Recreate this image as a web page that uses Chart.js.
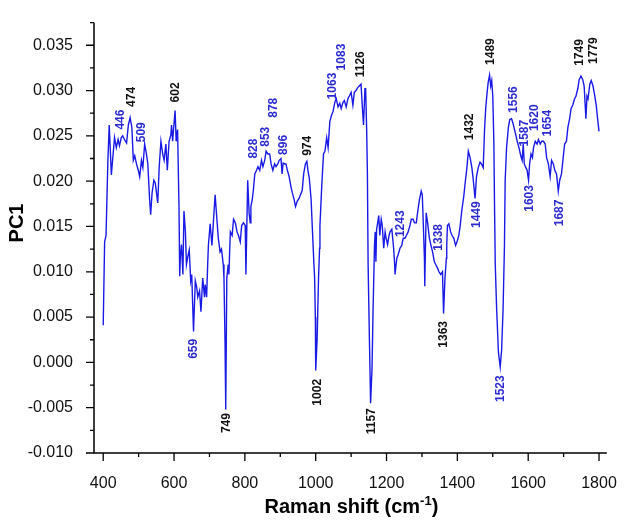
<!DOCTYPE html>
<html>
<head>
<meta charset="utf-8">
<script src="https://cdn.jsdelivr.net/npm/chart.js@4.4.1/dist/chart.umd.min.js"></script>
<style>
  html, body { margin: 0; padding: 0; background: #fff; }
  #wrap { width: 630px; height: 521px; }
</style>
</head>
<body>
<div id="wrap"><canvas id="c" width="630" height="521"></canvas></div>
<script>
// ---- data (Raman shift in cm-1, PC1 loading) ----
const ramanShift = [
  400,404,408,413,417,423,428,432,437,442,446,451,455,460,466,471,476,481,485,489,
  494,499,503,508,512,517,522,526,531,534,538,543,547,554,558,563,568,572,577,581,
  586,591,593,596,599,603,606,610,614,616,618,621,625,628,632,635,639,643,647,650,
  655,660,664,667,672,676,681,686,688,692,695,697,702,707,711,716,721,725,730,734,
  739,741,744,746,749,753,755,757,759,764,768,773,778,782,787,791,796,801,803,808,
  812,815,817,821,824,828,833,837,842,847,851,856,860,865,870,874,879,884,888,893,
  897,902,905,908,913,916,920,925,930,934,939,943,948,953,957,962,966,971,975,978,
  982,987,991,995,997,999,1000,1004,1008,1011,1012,1017,1022,1026,1031,1035,1040,1045,1049,1054,
  1058,1063,1068,1072,1077,1081,1086,1091,1095,1100,1105,1109,1114,1118,1123,1128,1132,1135,1139,1141,
  1144,1146,1148,1151,1155,1159,1162,1166,1168,1170,1172,1175,1178,1181,1185,1188,1192,1196,1199,1203,
  1207,1210,1215,1220,1223,1224,1229,1233,1238,1243,1247,1252,1256,1261,1266,1270,1275,1279,1284,1289,
  1293,1298,1301,1304,1307,1308,1310,1312,1316,1321,1325,1330,1335,1339,1344,1348,1353,1358,1361,1365,
  1369,1370,1372,1376,1381,1385,1390,1395,1399,1404,1408,1413,1418,1422,1427,1431,1436,1441,1445,1450,
  1454,1459,1464,1468,1473,1477,1480,1484,1487,1491,1494,1497,1500,1503,1505,1507,1511,1516,1521,1525,
  1529,1533,1535,1539,1544,1548,1553,1557,1560,1565,1569,1574,1579,1583,1586,1589,1592,1597,1601,1604,
  1608,1612,1615,1620,1625,1629,1634,1638,1643,1648,1652,1657,1662,1666,1671,1675,1680,1685,1689,1694,
  1698,1703,1708,1712,1717,1721,1726,1731,1735,1740,1744,1749,1754,1758,1763,1766,1769,1774,1778,1783,
  1788,1792,1796,1800
];
const pc1 = [
  0.0041,0.0133,0.0140,0.0220,0.0262,0.0207,0.0230,0.0248,0.0237,0.0246,0.0239,0.0248,0.0250,0.0246,0.0242,0.0262,0.0270,0.0259,0.0223,0.0228,
  0.0219,0.0212,0.0205,0.0223,0.0215,0.0241,0.0230,0.0219,0.0180,0.0163,0.0187,0.0201,0.0198,0.0176,0.0215,0.0244,0.0230,0.0223,0.0241,0.0212,
  0.0244,0.0251,0.0262,0.0244,0.0259,0.0278,0.0244,0.0257,0.0172,0.0095,0.0118,0.0130,0.0097,0.0167,0.0145,0.0108,0.0117,0.0124,0.0090,0.0097,
  0.0034,0.0090,0.0083,0.0072,0.0079,0.0056,0.0093,0.0072,0.0086,0.0072,0.0108,0.0129,0.0153,0.0129,0.0154,0.0185,0.0158,0.0137,0.0122,0.0125,
  0.0108,0.0093,0.0022,-0.0052,0.0093,0.0108,0.0097,0.0122,0.0144,0.0140,0.0158,0.0154,0.0144,0.0140,0.0133,0.0151,0.0154,0.0151,0.0097,0.0201,
  0.0165,0.0154,0.0172,0.0180,0.0190,0.0208,0.0212,0.0216,0.0212,0.0223,0.0216,0.0223,0.0233,0.0230,0.0230,0.0219,0.0212,0.0219,0.0216,0.0219,
  0.0223,0.0225,0.0208,0.0220,0.0219,0.0219,0.0212,0.0205,0.0194,0.0187,0.0180,0.0172,0.0178,0.0181,0.0185,0.0190,0.0208,0.0219,0.0222,0.0212,
  0.0203,0.0180,0.0144,0.0108,0.0093,0.0050,-0.0009,0.0025,0.0093,0.0126,0.0151,0.0194,0.0230,0.0233,0.0248,0.0237,0.0266,0.0273,0.0277,0.0287,
  0.0291,0.0282,0.0286,0.0280,0.0287,0.0289,0.0282,0.0291,0.0294,0.0298,0.0284,0.0298,0.0300,0.0303,0.0305,0.0307,0.0280,0.0262,0.0302,0.0302,
  0.0255,0.0208,0.0108,0.0040,-0.0045,-0.0007,0.0058,0.0129,0.0144,0.0111,0.0147,0.0154,0.0162,0.0140,0.0158,0.0151,0.0126,0.0144,0.0137,0.0130,
  0.0140,0.0144,0.0147,0.0126,0.0108,0.0097,0.0115,0.0119,0.0126,0.0129,0.0137,0.0137,0.0140,0.0144,0.0151,0.0158,0.0158,0.0154,0.0154,0.0169,
  0.0180,0.0189,0.0185,0.0151,0.0115,0.0084,0.0129,0.0165,0.0154,0.0137,0.0130,0.0122,0.0111,0.0108,0.0104,0.0100,0.0097,0.0100,0.0054,0.0093,
  0.0115,0.0129,0.0151,0.0153,0.0144,0.0140,0.0137,0.0129,0.0133,0.0140,0.0151,0.0169,0.0183,0.0198,0.0215,0.0233,0.0226,0.0215,0.0201,0.0181,
  0.0205,0.0215,0.0221,0.0219,0.0215,0.0259,0.0280,0.0298,0.0309,0.0317,0.0305,0.0311,0.0294,0.0244,0.0172,0.0108,0.0058,0.0011,-0.0005,0.0014,
  0.0058,0.0129,0.0201,0.0237,0.0259,0.0268,0.0269,0.0264,0.0259,0.0251,0.0244,0.0237,0.0228,0.0223,0.0241,0.0219,0.0216,0.0212,0.0201,0.0219,
  0.0230,0.0226,0.0237,0.0244,0.0241,0.0246,0.0241,0.0244,0.0244,0.0241,0.0226,0.0219,0.0205,0.0223,0.0219,0.0212,0.0208,0.0189,0.0201,0.0208,
  0.0223,0.0241,0.0244,0.0259,0.0269,0.0280,0.0284,0.0291,0.0294,0.0302,0.0312,0.0316,0.0312,0.0305,0.0269,0.0294,0.0291,0.0307,0.0311,0.0305,
  0.0294,0.0284,0.0269,0.0255
];

// ---- peak annotations (text, anchor in data units) ----
const peakText = ['446','474','509','602','659','749','828','853','878','896','974','1002','1063','1083','1126','1157',
                  '1243','1338','1363','1432','1449','1489','1523','1556','1587','1603','1620','1654','1687','1749','1779'];
const peakX    = [448,481,508,604.5,656,748,823.7,857.7,881.6,911,978.3,1005,1049.2,1072.2,1127.5,1157.8,
                  1240.7,1348.4,1362.2,1434,1454.3,1493,1523.4,1560.2,1590.6,1603.5,1618.2,1655,1689,1746.2,1785.8];
const peakY    = [0.0268,0.0293,0.0254,0.0298,0.0015,-0.0067,0.0236,0.0249,0.0281,0.0240,0.0239,-0.0033,0.0305,0.0337,0.0329,-0.0065,
                  0.0153,0.0138,0.0031,0.0260,0.0163,0.0343,-0.0029,0.0290,0.0253,0.0181,0.0270,0.0264,0.0165,0.0342,0.0344];
const blackPeaks = ['474','602','749','974','1002','1126','1157','1363','1432','1489','1749','1779'];

// ---- axes ----
const xTickLabels = ['400','600','800','1000','1200','1400','1600','1800'];
const xMinorTicks = [500,700,900,1100,1300,1500,1700];
const yTickLabels = ['-0.010','-0.005','0.000','0.005','0.010','0.015','0.020','0.025','0.030','0.035'];
const yMinorTicks = [-0.0075,-0.0025,0.0025,0.0075,0.0125,0.0175,0.0225,0.0275,0.0325,0.0375];
const xRange = [374, 1822];
const yRange = [-0.010, 0.0375];

const LINE_BLUE = '#1a1ae6';
const TEXT_BLUE = '#2a2ad0';

const decorPlugin = {
  id: 'decor',
  afterDatasetsDraw(chart) {
    const {ctx, chartArea: ca, scales} = chart;
    const xs = scales.x, ys = scales.y;
    ctx.save();
    // axis lines
    ctx.strokeStyle = '#000';
    ctx.lineWidth = 1.5;
    ctx.beginPath();
    ctx.moveTo(ca.left, ca.top);
    ctx.lineTo(ca.left, ca.bottom);
    ctx.lineTo(ca.right, ca.bottom);
    ctx.stroke();
    // ticks
    ctx.lineWidth = 1.3;
    ctx.beginPath();
    xTickLabels.forEach(t => { const p = xs.getPixelForValue(parseFloat(t)); ctx.moveTo(p, ca.bottom); ctx.lineTo(p, ca.bottom + 8); });
    xMinorTicks.forEach(v => { const p = xs.getPixelForValue(v); ctx.moveTo(p, ca.bottom); ctx.lineTo(p, ca.bottom + 4); });
    yTickLabels.forEach(t => { const p = ys.getPixelForValue(parseFloat(t)); ctx.moveTo(ca.left, p); ctx.lineTo(ca.left - 8, p); });
    yMinorTicks.forEach(v => { const p = ys.getPixelForValue(v); ctx.moveTo(ca.left, p); ctx.lineTo(ca.left - 4, p); });
    ctx.stroke();

    // peak labels (rotated)
    ctx.font = 'bold 12px "Liberation Sans", Arial, sans-serif';
    ctx.textAlign = 'center';
    ctx.textBaseline = 'middle';
    peakText.forEach((t, i) => {
      const px = xs.getPixelForValue(peakX[i]);
      const py = ys.getPixelForValue(peakY[i]);
      ctx.save();
      ctx.translate(px, py);
      ctx.rotate(-Math.PI / 2);
      ctx.fillStyle = blackPeaks.includes(t) ? '#111' : TEXT_BLUE;
      ctx.fillText(t, 0, 0);
      ctx.restore();
    });

    // y title
    ctx.save();
    ctx.font = 'bold 20px "Liberation Sans", Arial, sans-serif';
    ctx.fillStyle = '#000';
    ctx.translate(17.5, 223);
    ctx.rotate(-Math.PI / 2);
    ctx.textAlign = 'center';
    ctx.textBaseline = 'middle';
    ctx.fillText('PC1', 0, 0);
    ctx.restore();

    // x title with superscript
    const main = 'Raman shift (cm';
    const sup = '-1';
    const end = ')';
    const bigFont = 'bold 20px "Liberation Sans", Arial, sans-serif';
    const smallFont = 'bold 13px "Liberation Sans", Arial, sans-serif';
    ctx.font = bigFont;
    const w1 = ctx.measureText(main).width;
    const w3 = ctx.measureText(end).width;
    ctx.font = smallFont;
    const w2 = ctx.measureText(sup).width;
    const total = w1 + w2 + w3;
    const cx = (ca.left + ca.right) / 2 + 1;
    let sx = cx - total / 2;
    const base = 513;
    ctx.textAlign = 'left';
    ctx.textBaseline = 'alphabetic';
    ctx.fillStyle = '#000';
    ctx.font = bigFont;
    ctx.fillText(main, sx, base);
    ctx.font = smallFont;
    ctx.fillText(sup, sx + w1, base - 8);
    ctx.font = bigFont;
    ctx.fillText(end, sx + w1 + w2, base);
    ctx.restore();
  }
};

const points = ramanShift.map((x, i) => ({x: x, y: pc1[i]}));
const tickFont = {family: '"Liberation Sans", Arial, sans-serif', size: 16};

new Chart(document.getElementById('c'), {
  type: 'line',
  data: {
    datasets: [{
      data: points,
      borderColor: LINE_BLUE,
      borderWidth: 1.4,
      pointRadius: 0,
      tension: 0,
      fill: false
    }]
  },
  options: {
    responsive: false,
    animation: false,
    devicePixelRatio: 1,
    layout: {padding: {left: 0, right: 12, top: 12, bottom: 0}},
    plugins: {legend: {display: false}, tooltip: {enabled: false}},
    scales: {
      x: {
        type: 'linear',
        min: xRange[0],
        max: xRange[1],
        afterBuildTicks: s => { s.ticks = xTickLabels.map(t => ({value: parseFloat(t)})); },
        afterFit: s => { s.height = 68; },
        grid: {display: false},
        border: {display: false},
        ticks: {
          font: tickFont, color: '#111', padding: 13, maxRotation: 0, autoSkip: false,
          callback: (v) => String(Math.round(v))
        }
      },
      y: {
        type: 'linear',
        min: yRange[0],
        max: yRange[1],
        afterBuildTicks: s => { s.ticks = yTickLabels.map(t => ({value: parseFloat(t)})); },
        afterFit: s => { s.width = 94; },
        grid: {display: false},
        border: {display: false},
        ticks: {
          font: tickFont, color: '#111', padding: 13, autoSkip: false,
          callback: (v) => Number(v).toFixed(3)
        }
      }
    }
  },
  plugins: [decorPlugin]
});
</script>
</body>
</html>
